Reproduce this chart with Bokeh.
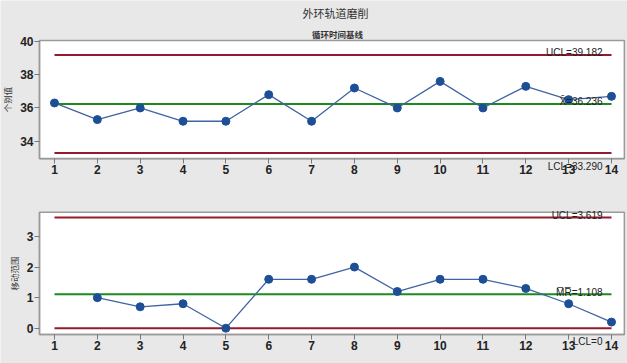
from bokeh.plotting import figure
from bokeh.models import Range1d, FixedTicker, Label, LinearAxis
from bokeh.embed import file_html
from bokeh.resources import INLINE

# ---- data ----
observations = [1, 2, 3, 4, 5, 6, 7, 8, 9, 10, 11, 12, 13, 14]
individual = [36.3, 35.3, 36.0, 35.2, 35.2, 36.8, 35.2, 37.2, 36.0, 37.6, 36.0, 37.3, 36.5, 36.7]
mr_observations = [2, 3, 4, 5, 6, 7, 8, 9, 10, 11, 12, 13, 14]
moving_range = [1.0, 0.7, 0.8, 0.0, 1.6, 1.6, 2.0, 1.2, 1.6, 1.6, 1.3, 0.8, 0.2]
i_limits = [39.182, 36.236, 33.290]          # UCL, mean, LCL
mr_limits = [3.619, 1.108, 0.0]              # UCL, mean, LCL
i_ticks = [34, 36, 38, 40]
mr_ticks = [0, 1, 2, 3]
i_label_texts = ["UCL=39.182", "X\u0304=36.236", "LCL=33.290"]
mr_label_texts = ["UCL=3.619", "M\u0305R\u0305=1.108", "LCL=0"]
main_title = "外环轨道磨削"
sub_title = "循环时间基线"
i_ylabel = "个别值"
mr_ylabel = "移动范围"

# ---- layout / style ----
BG = "#e8e8e8"
RED = "#921c2c"
GREEN = "#1e8a1e"
LINE_BLUE = "#3f63a3"
DOT_BLUE = "#1d4f97"
FRAME = "#9a9a9a"
CJK = "Noto Sans CJK SC"
LAT = "Liberation Sans"
TICKFONT = "'Liberation Sans Narrow', 'Liberation Sans', sans-serif"

W, H = 627, 363
XR = (-0.2603, 14.3734)         # whole canvas, x
Y_TOP = (20.622, 42.467)        # whole canvas, individuals scale
Y_BOT = (-1.155, 10.721)        # whole canvas, moving-range scale
BOX_X = (0.65, 14.30)
BOX_TOP = (32.95, 40.06)
BOX_BOT = (-0.21, 3.79)
LABEL_X = 13.79

p = figure(width=W, height=H, output_backend="svg", toolbar_location=None,
           x_range=Range1d(*XR), y_range=Range1d(*Y_TOP),
           x_axis_type=None, y_axis_type=None, min_border=0)
p.extra_y_ranges = {"mr": Range1d(*Y_BOT)}
p.background_fill_color = BG
p.border_fill_color = BG
p.outline_line_color = None


def panel(rng_name, box_y, yticks, ylabel, xs, ys, limits, texts, offsets):
    # plot box
    p.quad(left=[BOX_X[0]], right=[BOX_X[1]], bottom=[box_y[0]], top=[box_y[1]],
           fill_color="white", line_color=FRAME, line_width=1.5,
           y_range_name=rng_name, level="underlay")
    # control limit lines
    for v, c in zip(limits, [RED, GREEN, RED]):
        p.segment(x0=[observations[0]], y0=[v], x1=[observations[-1]], y1=[v],
                  line_color=c, line_width=2, y_range_name=rng_name)
    # data
    p.line(xs, ys, line_color=LINE_BLUE, line_width=1.3, y_range_name=rng_name)
    p.scatter(xs, ys, size=8, fill_color=DOT_BLUE, line_color=DOT_BLUE,
              y_range_name=rng_name)
    # limit labels
    for v, t, yo in zip(limits, texts, offsets):
        p.add_layout(Label(x=LABEL_X, y=v, text=t, text_align="right",
                           text_baseline="alphabetic", y_offset=yo,
                           text_font=LAT, text_font_size="10px",
                           text_color="#222222", y_range_name=rng_name))
    # axes
    xa = LinearAxis(ticker=FixedTicker(ticks=observations), fixed_location=box_y[0],
                    bounds=BOX_X, y_range_name=rng_name)
    ya = LinearAxis(ticker=FixedTicker(ticks=yticks), fixed_location=BOX_X[0],
                    bounds=box_y, y_range_name=rng_name, axis_label=ylabel)
    for ax in (xa, ya):
        ax.axis_line_color = FRAME
        ax.axis_line_width = 1.5
        ax.major_tick_line_color = "#777777"
        ax.major_tick_out = 5
        ax.major_tick_in = 0
        ax.minor_tick_line_color = None
        ax.major_label_text_font = TICKFONT
        ax.major_label_text_font_style = "bold"
        ax.major_label_text_font_size = "12px"
        ax.major_label_text_color = "#222222"
        ax.major_label_standoff = 1
    ya.axis_label_text_font = CJK
    ya.axis_label_text_font_style = "normal"
    ya.axis_label_text_font_size = "8.5px"
    ya.axis_label_text_color = "#333333"
    ya.axis_label_standoff = 4
    p.add_layout(xa, "below")
    p.add_layout(ya, "left")


panel("default", BOX_TOP, i_ticks, i_ylabel, observations, individual,
      i_limits, i_label_texts, [3, 3, -14])
panel("mr", BOX_BOT, mr_ticks, mr_ylabel, mr_observations, moving_range,
      mr_limits, mr_label_texts, [2, 2, -13])

# titles
p.add_layout(Label(x=335, y=351, x_units="screen", y_units="screen",
                   text=main_title, text_align="center", text_baseline="middle",
                   text_font=CJK, text_font_size="11px", text_color="#333333"))
p.add_layout(Label(x=337, y=330, x_units="screen", y_units="screen",
                   text=sub_title, text_align="center", text_baseline="middle",
                   text_font=CJK, text_font_size="8.5px", text_font_style="bold",
                   text_color="#333333"))

open("out.html", "w").write(file_html(p, INLINE))
